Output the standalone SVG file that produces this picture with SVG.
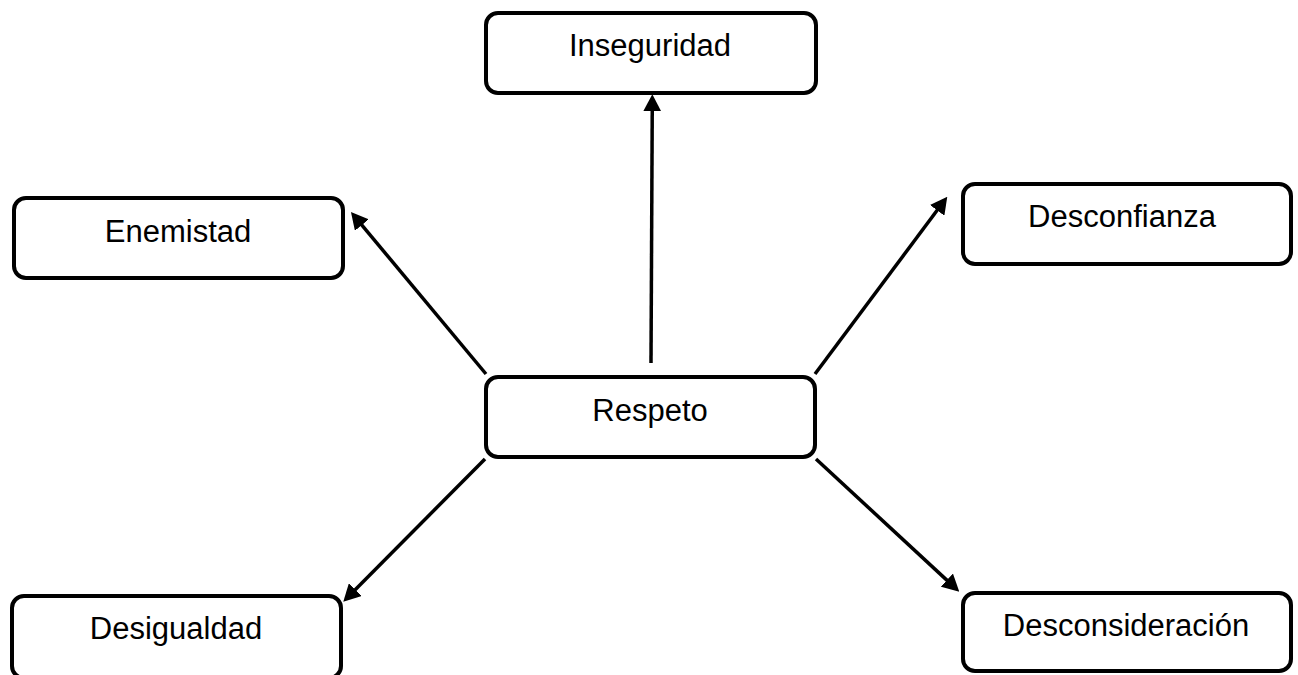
<svg xmlns="http://www.w3.org/2000/svg" width="1298" height="675" viewBox="0 0 1298 675">
<style>
.box{fill:#ffffff;stroke:#000000;stroke-width:4}
.lbl{font-family:"Liberation Sans",Arial,sans-serif;font-size:31px;fill:#000000;text-anchor:middle}
.conn{stroke:#000000;stroke-width:3.5;fill:none;marker-end:url(#arrow)}
</style>
<defs>
<marker id="arrow" markerUnits="userSpaceOnUse" markerWidth="17" markerHeight="18" viewBox="0 0 17 18" refX="11" refY="9" orient="auto">
<path d="M0,0 L17,9 L0,18 z" fill="#000000"/>
</marker>
</defs>
<rect width="1298" height="675" fill="#ffffff"/>
<g id="connectors">
<line class="conn" x1="651" y1="363" x2="652.3" y2="100.3"/>
<line class="conn" x1="486" y1="374" x2="354.8" y2="216.6"/>
<line class="conn" x1="815" y1="374" x2="943.7" y2="201.5"/>
<line class="conn" x1="485" y1="459" x2="347.5" y2="597.4"/>
<line class="conn" x1="816" y1="459" x2="954.9" y2="587.6"/>
</g>
<g id="inseguridad">
<rect class="box" x="486" y="13" width="330" height="80" rx="12"/>
<text class="lbl" x="650" y="56">Inseguridad</text>
</g>
<g id="enemistad">
<rect class="box" x="14" y="198" width="329" height="80" rx="12"/>
<text class="lbl" x="178" y="242">Enemistad</text>
</g>
<g id="desconfianza">
<rect class="box" x="963" y="184" width="328" height="80" rx="12"/>
<text class="lbl" x="1122" y="227">Desconfianza</text>
</g>
<g id="respeto">
<rect class="box" x="486" y="377" width="329" height="80" rx="12"/>
<text class="lbl" x="650" y="421">Respeto</text>
</g>
<g id="desigualdad">
<rect class="box" x="12" y="596" width="329" height="82" rx="12"/>
<text class="lbl" x="176" y="639">Desigualdad</text>
</g>
<g id="desconsideracion">
<rect class="box" x="963" y="593" width="328" height="78" rx="12"/>
<text class="lbl" x="1126" y="636">Desconsideración</text>
</g>
</svg>
